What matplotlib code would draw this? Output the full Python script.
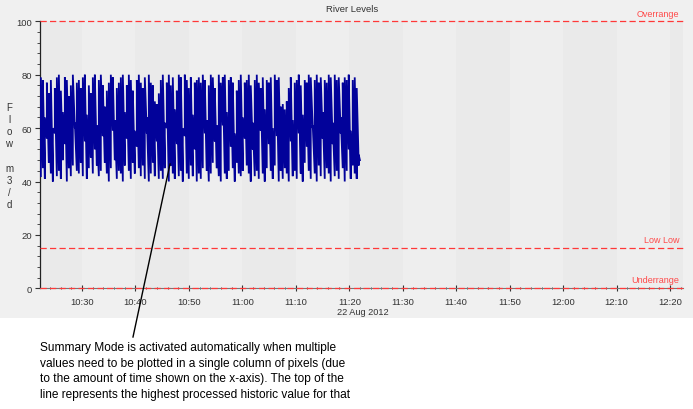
import numpy as np
import matplotlib
matplotlib.use("Agg")
import matplotlib.pyplot as plt
from matplotlib.patches import Rectangle

# ---------------- data ----------------
title = "River Levels"
y_label_letters = ["F", "l", "o", "w", "", "m", "3", "/", "d"]
date_label = "22 Aug 2012"

# x in minutes after 10:00
x_tick_minutes = [30, 40, 50, 60, 70, 80, 90, 100, 110, 120, 130, 140]
x_tick_labels = ["10:30", "10:40", "10:50", "11:00", "11:10", "11:20",
                 "11:30", "11:40", "11:50", "12:00", "12:10", "12:20"]
x_start, x_end = 22.14, 142.43
y_ticks = [0, 20, 40, 60, 80, 100]

# summary-mode columns: highest / lowest value in each time bucket
bucket_start = 22.3     # minutes after 10:00
bucket_width = 0.374    # minutes per bucket

flow_high = [
    79, 78, 64, 77, 73, 78, 60, 75, 79, 80, 74, 66, 79, 78, 72, 76, 80, 62, 77, 78,
    75, 79, 80, 65, 76, 73, 79, 80, 61, 78, 80, 76, 68, 74, 77, 80, 79, 63, 75, 77,
    79, 80, 66, 76, 80, 78, 74, 59, 78, 80, 77, 75, 79, 64, 80, 77, 76, 70, 69, 73,
    78, 80, 62, 77, 80, 76, 79, 67, 74, 80, 79, 60, 80, 78, 75, 79, 65, 77, 78, 79,
    77, 80, 78, 63, 76, 80, 79, 75, 61, 80, 77, 79, 80, 66, 78, 79, 77, 58, 74, 78,
    80, 64, 77, 78, 80, 76, 62, 78, 80, 77, 75, 79, 67, 78, 77, 79, 60, 80, 78, 79,
    68, 69, 67, 70, 75, 79, 63, 77, 78, 80, 76, 65, 78, 77, 80, 79, 61, 78, 80, 77,
    79, 66, 78, 77, 80, 79, 62, 80, 78, 79, 64, 77, 79, 78, 80, 59, 78, 79, 75, 50,
]
flow_low = [
    42, 45, 41, 56, 47, 43, 40, 58, 42, 44, 41, 48, 54, 40, 45, 42, 46, 60, 44, 43,
    47, 42, 55, 41, 45, 49, 43, 52, 46, 42, 44, 57, 47, 43, 40, 45, 59, 48, 41, 44,
    43, 40, 46, 56, 44, 41, 47, 43, 53, 45, 42, 46, 41, 58, 40, 43, 47, 42, 55, 41,
    44, 41, 45, 60, 40, 46, 43, 41, 54, 42, 44, 40, 57, 43, 41, 46, 42, 52, 40, 43,
    41, 45, 58, 44, 40, 43, 47, 55, 45, 42, 40, 61, 43, 41, 44, 53, 45, 40, 47, 43,
    42, 44, 56, 46, 43, 40, 52, 42, 44, 41, 59, 43, 40, 45, 54, 44, 41, 46, 57, 40,
    44, 41, 45, 43, 40, 55, 42, 44, 41, 58, 43, 40, 47, 53, 44, 41, 60, 43, 40, 46,
    42, 56, 41, 45, 43, 40, 54, 42, 44, 41, 58, 45, 40, 44, 52, 41, 46, 43, 41, 46,
]
last_value = 48

limit_values = [100, 15, 0]
limit_names = ["Overrange", "Low Low", "Underrange"]

annotation = ("Summary Mode is activated automatically when multiple\n"
              "values need to be plotted in a single column of pixels (due\n"
              "to the amount of time shown on the x-axis). The top of the\n"
              "line represents the highest processed historic value for that")

# ---------------- figure ----------------
W, H = 693, 410
fig = plt.figure(figsize=(W / 100, H / 100), dpi=100)
fig.patch.set_facecolor("white")
fig.patches.append(Rectangle((0, (H - 319) / H), 1, 319 / H, transform=fig.transFigure,
                             facecolor="#f0f0f0", edgecolor="none", zorder=-10))

def fx(px):
    return px / W

def fy(py):
    return (H - py) / H

ax = fig.add_axes([fx(40), fy(289.3), fx(683) - fx(40), fy(22.3) - fy(289.3)])
ax.set_zorder(1)
ax.set_facecolor("none")
ax.set_xlim(x_start, x_end)
ax.set_ylim(0, 100)

# alternating vertical bands
edges = [x_start] + x_tick_minutes + [x_end]
for i in range(len(edges) - 1):
    col = "#eaeaea" if i % 2 == 0 else "#eeeeee"
    ax.axvspan(edges[i], edges[i + 1], color=col, lw=0, zorder=0)

# summary-mode polyline: in each bucket go from its low to its high, then on
navy = "#02029a"
times = bucket_start + bucket_width * np.arange(len(flow_high))
px = []
py = []
for t, lo, hi in zip(times, flow_low, flow_high):
    px += [t, t]
    py += [lo, hi]
px.append(times[-1] + bucket_width * 0.6)
py.append(last_value)
ax.plot(px, py, color=navy, lw=1.3, zorder=3, solid_joinstyle="miter")

red = "#ff3838"
for v in limit_values:
    ax.axhline(v, color=red, lw=0.9, linestyle=(0, (5.0, 2.6)), zorder=4, clip_on=False)

for v, name, dy in zip(limit_values, limit_names, [8.0, 8.5, 8.5]):
    ax.annotate(name, xy=(1, v), xycoords=("axes fraction", "data"),
                xytext=(-4, dy), textcoords="offset pixels",
                ha="right", va="center", fontsize=6.5, color="#ff4a4a",
                family="Liberation Sans")

ax.set_xticks(x_tick_minutes)
ax.set_xticklabels(x_tick_labels)
ax.set_xticks(np.arange(24, 143, 2), minor=True)
ax.set_yticks(y_ticks)
ax.set_yticks(np.arange(0, 101, 4), minor=True)

for lab in ax.get_xticklabels() + ax.get_yticklabels():
    lab.set_family("Liberation Sans")
    lab.set_fontsize(6.8)
    lab.set_color("#333333")

ax.tick_params(axis="both", which="major", length=3.5, width=0.8, color="#333333", pad=2)
ax.tick_params(axis="both", which="minor", length=2, width=0.6, color="#333333")
ax.tick_params(axis="x", which="both", direction="inout")
ax.tick_params(axis="x", which="major", length=5, pad=4)

for s in ["top", "right"]:
    ax.spines[s].set_visible(False)
ax.spines["left"].set_color("#222222")
ax.spines["left"].set_linewidth(0.9)
ax.spines["bottom"].set_color("#777777")
ax.spines["bottom"].set_linewidth(0.8)

fig.text(fx(352.5), fy(9), title, ha="center", va="center", fontsize=6.8,
         color="#333333", family="Liberation Sans")
fig.text(fx(337), fy(313), date_label, ha="left", va="center", fontsize=6.6,
         color="#333333", family="Liberation Sans")
fig.text(fx(9), fy(156.5), "\n".join(y_label_letters), ha="center", va="center",
         fontsize=7, color="#333333", family="Liberation Sans", linespacing=1.28,
         multialignment="center")

# annotation arrow line and text
fig.add_artist(plt.Line2D([fx(170), fx(133)], [fy(165), fy(338)], transform=fig.transFigure,
                          color="black", lw=1.0, zorder=10))
fig.text(fx(40), fy(342.5), annotation, ha="left", va="top", fontsize=8.6,
         color="black", family="Liberation Sans", linespacing=1.38, zorder=10)

fig.savefig("out.png", dpi=100)
